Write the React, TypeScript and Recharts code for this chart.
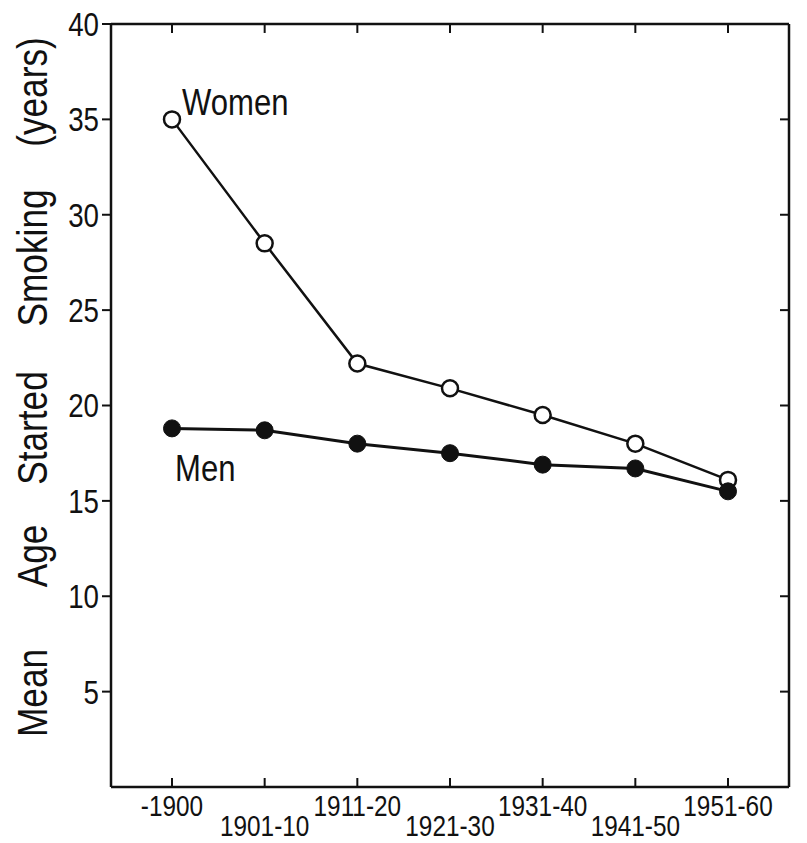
import React from "react";
import { LineChart, Line, XAxis, YAxis, LabelList, ReferenceLine } from "recharts";

const INK = "#111";
const FONT = "'Liberation Sans', Arial, Helvetica, sans-serif";
const NARROW = 0.84; // the scan uses a condensed grotesque

const periods = ["-1900", "1901-10", "1911-20", "1921-30", "1931-40", "1941-50", "1951-60"];
const women = [35.0, 28.5, 22.2, 20.9, 19.5, 18.0, 16.1];
const men = [18.8, 18.7, 18.0, 17.5, 16.9, 16.7, 15.5];
const yTicks = [5, 10, 15, 20, 25, 30, 35, 40];
const titleWords = ["Mean", "Age", "Started", "Smoking", "(years)"];

const data = periods.map((p, i) => ({ period: p, women: women[i], men: men[i] }));

// word centres along the rotated axis title
const WORD_Y = [693, 556, 428, 258, 92];

const TICK_LINE = { stroke: INK, strokeWidth: 2 };
const FRAME = { stroke: INK, strokeWidth: 2.5 };
const PAD = { left: 61, right: 61 };
const Y_MAX = 40;
const TOP_TICK = 0.47; // inward tick length on the top edge, in axis units (~9px)

function Narrow(props: {
  x: number;
  y: number;
  size: number;
  anchor?: "start" | "middle" | "end";
  rotate?: number;
  baseline?: string;
  children: React.ReactNode;
}) {
  const { x, y, size, anchor = "start", rotate = 0, baseline = "central", children } = props;
  return (
    <text
      transform={`translate(${x},${y}) rotate(${rotate}) scale(${NARROW},1)`}
      textAnchor={anchor}
      dominantBaseline={baseline}
      fontSize={size}
      fontFamily={FONT}
      fill={INK}
    >
      {children}
    </text>
  );
}

// y passed in is the axis line itself (tickSize -9, tickMargin 9)
const BottomTick = (props: any) => {
  const { x, y, payload, index } = props;
  const low = index % 2 === 1;
  return (
    <Narrow x={x} y={y + (low ? 39 : 19)} size={29} anchor="middle">
      {payload.value}
    </Narrow>
  );
};

const LeftTick = (props: any) => {
  const { x, y, payload } = props;
  return (
    <Narrow x={x} y={y} size={33} anchor="end">
      {payload.value}
    </Narrow>
  );
};

// top and right axes carry only inward tick marks
const NoLabel = () => <g />;

const seriesLabel = (name: string, dx: number, dy: number) => (props: any) => {
  if (props.index !== 0) return null;
  return (
    <Narrow x={props.x + dx} y={props.y + dy} size={37}>
      {name}
    </Narrow>
  );
};

export default function App() {
  return (
    <div style={{ position: "absolute", left: 0, top: 0, width: 807, height: 843, background: "#fff" }}>
      <LineChart
        width={807}
        height={843}
        data={data}
        margin={{ top: 23, right: 17, bottom: 0, left: 0 }}
      >
        <XAxis
          dataKey="period"
          xAxisId="bottom"
          height={56}
          padding={PAD}
          axisLine={FRAME}
          tickLine={TICK_LINE}
          tickSize={-9}
          tickMargin={9}
          tick={(p: any) => <BottomTick {...p} />}
          interval={0}
        />
        <XAxis
          dataKey="period"
          xAxisId="top"
          orientation="top"
          height={1}
          padding={PAD}
          axisLine={FRAME}
          tickLine={false}
          tick={NoLabel}
          interval={0}
        />
        <YAxis
          yAxisId="left"
          width={111}
          domain={[0, Y_MAX]}
          ticks={yTicks}
          interval={0}
          axisLine={FRAME}
          tickLine={TICK_LINE}
          tickSize={9}
          tickMargin={3}
          tick={(p: any) => <LeftTick {...p} />}
        />
        <YAxis
          yAxisId="right"
          orientation="right"
          width={1}
          domain={[0, Y_MAX]}
          ticks={yTicks}
          interval={0}
          axisLine={FRAME}
          tickLine={TICK_LINE}
          tickSize={-9}
          tick={NoLabel}
        />
        {/* inward tick marks along the top edge, one per period */}
        {periods.map((p) => (
          <ReferenceLine
            key={`top-${p}`}
            xAxisId="top"
            yAxisId="right"
            segment={[
              { x: p, y: Y_MAX },
              { x: p, y: Y_MAX - TOP_TICK },
            ]}
            stroke={INK}
            strokeWidth={2}
            ifOverflow="visible"
          />
        ))}
        {/* women sit on the top/right pair, which mirror the bottom/left scales exactly */}
        <Line
          xAxisId="top"
          yAxisId="right"
          dataKey="women"
          stroke={INK}
          strokeWidth={2.5}
          dot={{ r: 8, fill: "#fff", stroke: INK, strokeWidth: 2.5 }}
          isAnimationActive={false}
        >
          <LabelList dataKey="women" content={seriesLabel("Women", 10, -17)} />
        </Line>
        <Line
          xAxisId="bottom"
          yAxisId="left"
          dataKey="men"
          stroke={INK}
          strokeWidth={3}
          dot={{ r: 8.5, fill: INK, stroke: INK, strokeWidth: 1 }}
          isAnimationActive={false}
        >
          <LabelList dataKey="men" content={seriesLabel("Men", 3, 40)} />
        </Line>
      </LineChart>
      <svg
        width={807}
        height={843}
        style={{ position: "absolute", left: 0, top: 0, pointerEvents: "none" }}
      >
        {titleWords.map((w, i) => (
          <Narrow key={w} x={47} y={WORD_Y[i]} size={42} anchor="middle" rotate={-90} baseline="alphabetic">
            {w}
          </Narrow>
        ))}
      </svg>
    </div>
  );
}
